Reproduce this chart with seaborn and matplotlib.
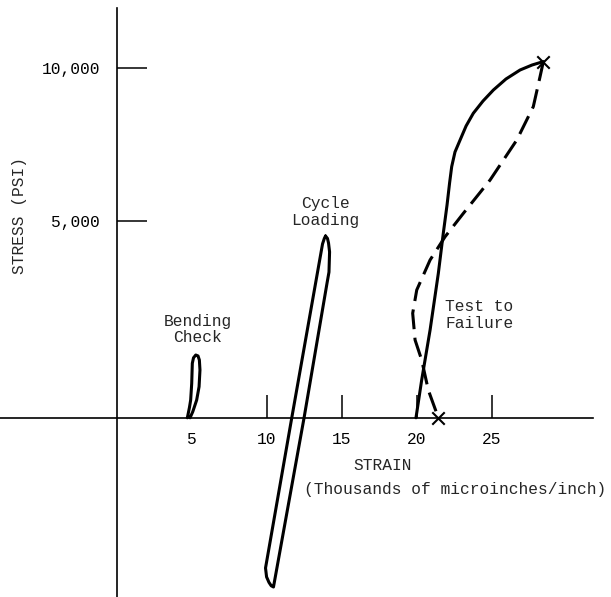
import matplotlib
matplotlib.use("Agg")
import matplotlib.pyplot as plt
import seaborn as sns

# Strain in thousands of microinches/inch, stress in psi
bending_strain = [4.71, 4.85, 4.93, 5.00, 5.04, 5.12, 5.27, 5.42, 5.51, 5.55, 5.49, 5.33, 5.07, 4.89]
bending_stress = [-1440, -1100, -860, -314, 340, 520, 611, 580, 448, 121, -425, -860, -1242, -1440]

cycle_strain = [13.92, 14.05, 14.12, 14.19, 14.15, 14.02, 12.49, 10.45, 10.30, 10.15, 9.99, 9.92, 11.67, 13.72, 13.84, 13.92]
cycle_stress = [4500, 4420, 4270, 3980, 3320, 2960, -1440, -6970, -6930, -6820, -6640, -6350, -1440, 4240, 4420, 4500]

# Loading branch of the test to failure (solid)
load_strain = [19.95, 20.33, 20.89, 21.44, 21.77, 22.02, 22.19, 22.33, 22.55, 22.89,
               23.29, 23.77, 24.42, 25.11, 25.95, 26.89, 27.69, 28.44]
load_stress = [-1440, -206, 1428, 3281, 4588, 5513, 6232, 6765, 7245, 7637,
               8095, 8510, 8912, 9271, 9631, 9925, 10088, 10200]

# Return branch of the test to failure (dashed)
return_strain = [28.44, 28.22, 27.77, 26.67, 24.89, 23.11, 21.89, 20.89, 20.00, 19.73, 19.89, 20.33, 20.77, 21.44]
return_stress = [10200, 9706, 8726, 7637, 6330, 5242, 4477, 3716, 2735, 1974, 1101, 448, -533, -1440]

# Failure points marked with a cross
fail_strain = [28.44, 21.44]
fail_stress = [10200, -1440]

strain_ticks = [5, 10, 15, 20, 25]
strain_tick_labels = ["5", "10", "15", "20", "25"]
stress_ticks = [5000, 10000]
stress_tick_labels = ["5,000", "10,000"]

# Stress level at which the strain axis is drawn
strain_axis_level = -1440

sns.set_theme(style="white")
plt.rcParams["font.family"] = ["Liberation Mono", "DejaVu Sans"]
FS = 11.7

fig = plt.figure(figsize=(6.11, 5.97), dpi=100)
ax = fig.add_axes([0, 0, 1, 1])
ax.set_facecolor("white")

line_kw = dict(color="black", linewidth=2.2, sort=False, estimator=None, ax=ax)
sns.lineplot(x=bending_strain, y=bending_stress, **line_kw)
sns.lineplot(x=cycle_strain, y=cycle_stress, **line_kw)
sns.lineplot(x=load_strain, y=load_stress, **line_kw)
sns.lineplot(x=return_strain, y=return_stress, linestyle=(0, (6.5, 2.8)), **line_kw)
sns.scatterplot(x=fail_strain, y=fail_stress, marker="x", s=80, color="black",
                linewidth=1.5, ax=ax, zorder=5)
for line in ax.lines:
    line.set_solid_joinstyle("round")
    line.set_solid_capstyle("round")

ax.set_xlim(-7.78, 32.95)
ax.set_ylim(-7297, 12212)

# Axes crossing through the origin of the strain scale
for side in ("top", "right"):
    ax.spines[side].set_visible(False)
ax.spines["left"].set_position(("data", 0))
ax.spines["bottom"].set_position(("data", strain_axis_level))
ax.spines["left"].set_bounds(-7297, 11950)
ax.spines["bottom"].set_bounds(-7.78, 31.75)
for side in ("left", "bottom"):
    ax.spines[side].set_color("black")
    ax.spines[side].set_linewidth(1.2)

ax.set_xticks(strain_ticks)
ax.set_xticklabels(strain_tick_labels)
ax.set_yticks(stress_ticks)
ax.set_yticklabels(stress_tick_labels)
ax.tick_params(axis="x", bottom=True, direction="in", length=16.5, width=1.1, color="black",
               pad=10, labelsize=FS, labelcolor="black")
ax.tick_params(axis="y", left=True, direction="in", length=21.5, width=1.1, color="black",
               pad=12, labelsize=FS, labelcolor="black")
ax.xaxis.get_major_ticks()[0].tick1line.set_visible(False)
ax.grid(False)

ax.text(17.75, -2984, "STRAIN", ha="center", va="center", fontsize=FS)
ax.text(12.49, -3768, "(Thousands of microinches/inch)", ha="left", va="center", fontsize=FS)
ax.text(-6.45, 5154, "STRESS (PSI)", ha="center", va="center", rotation=90, fontsize=FS)

ax.text(5.4, 1444, "Bending\nCheck", ha="center", va="center", fontsize=FS, linespacing=1.1)
ax.text(13.91, 5294, "Cycle\nLoading", ha="center", va="center", fontsize=FS, linespacing=1.15)
ax.text(21.89, 1918, "Test to\nFailure", ha="left", va="center", fontsize=FS, linespacing=1.15)

fig.savefig("out.png", dpi=100, facecolor="white")
